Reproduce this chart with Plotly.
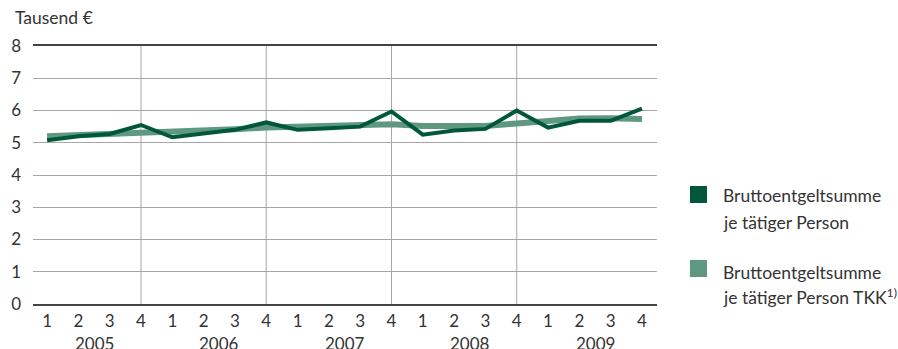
import plotly.graph_objects as go

# Quarterly series, 2005 Q1 – 2009 Q4 (thousand euro)
years = ["2005", "2006", "2007", "2008", "2009"]
quarters = ["1", "2", "3", "4"]
brutto = [5.08, 5.2, 5.27, 5.55, 5.17, 5.3, 5.4, 5.63,
          5.4, 5.45, 5.5, 5.97, 5.25, 5.38, 5.43, 6.0,
          5.47, 5.68, 5.68, 6.06]
brutto_tkk = [5.2, 5.23, 5.27, 5.31, 5.34, 5.38, 5.42, 5.47,
              5.5, 5.53, 5.56, 5.57, 5.52, 5.5, 5.52, 5.6,
              5.68, 5.75, 5.76, 5.74]
legend_lines = [["Bruttoentgeltsumme", "je tätiger Person"],
                ["Bruttoentgeltsumme", "je tätiger Person TKK<sup>1)</sup>"]]
y_title = "Tausend €"

DARK = "#00573a"
LIGHT = "#5e9880"
TEXT = "#333333"
FONT = "Lato"

labels = [q for _ in years for q in quarters]
x = list(range(len(labels)))

fig = go.Figure()
fig.add_trace(go.Scatter(x=x, y=brutto_tkk, mode="lines",
                         line=dict(color=LIGHT, width=6), showlegend=False))
fig.add_trace(go.Scatter(x=x, y=brutto, mode="lines",
                         line=dict(color=DARK, width=4), showlegend=False))

# vertical separators after each year's 4th quarter (not after the last)
for i in range(3, len(x) - 1, 4):
    fig.add_shape(type="line", xref="x", yref="y", x0=i, x1=i, y0=0, y1=8,
                  line=dict(color="#a6a6a6", width=1), layer="below")

# year labels centred beneath each group of quarters
for k, yr in enumerate(years):
    fig.add_annotation(x=4 * k + 1.5, y=-0.152, xref="x", yref="paper",
                       text=yr, showarrow=False, yanchor="middle",
                       font=dict(family=FONT, size=17, color=TEXT))

fig.add_annotation(x=-0.032, y=1.11, xref="paper", yref="paper", text=y_title,
                   showarrow=False, xanchor="left", yanchor="middle",
                   font=dict(family=FONT, size=17.5, color=TEXT))

# legend drawn as coloured squares with two-line captions
for lines, col, ymid in zip(legend_lines, [DARK, LIGHT], [195, 269]):
    fig.add_shape(type="rect", xref="paper", yref="paper",
                  x0=(690 - 33) / 624, x1=(707 - 33) / 624,
                  y0=(304 - (ymid + 8)) / 258, y1=(304 - (ymid - 9)) / 258,
                  fillcolor=col, line=dict(width=0))
    for j, txt in enumerate(lines):
        ypix = ymid + 1 + 26 * j + (2 if ymid > 200 and j == 0 else 0)
        fig.add_annotation(x=(721 - 33) / 624, y=(304 - ypix) / 258,
                           xref="paper", yref="paper", text=txt, showarrow=False,
                           xanchor="left", yanchor="middle", align="left",
                           font=dict(family=FONT, size=17.5, color=TEXT))

fig.update_layout(
    width=898, height=349,
    margin=dict(l=33, r=241, t=46, b=45),
    paper_bgcolor="white", plot_bgcolor="white",
    font=dict(family=FONT, size=17, color=TEXT),
)
fig.update_xaxes(range=[-0.45, 19.48], tickmode="array", tickvals=x, ticktext=labels,
                 showgrid=False, zeroline=False, showline=True, mirror=True,
                 linecolor="#444444", linewidth=2, ticks="", ticklabelstandoff=1)
fig.update_yaxes(range=[0, 8], dtick=1, showgrid=True, gridcolor="#a6a6a6",
                 gridwidth=1, zeroline=False, ticks="", ticklabelstandoff=11)

fig.write_html("out.html")
